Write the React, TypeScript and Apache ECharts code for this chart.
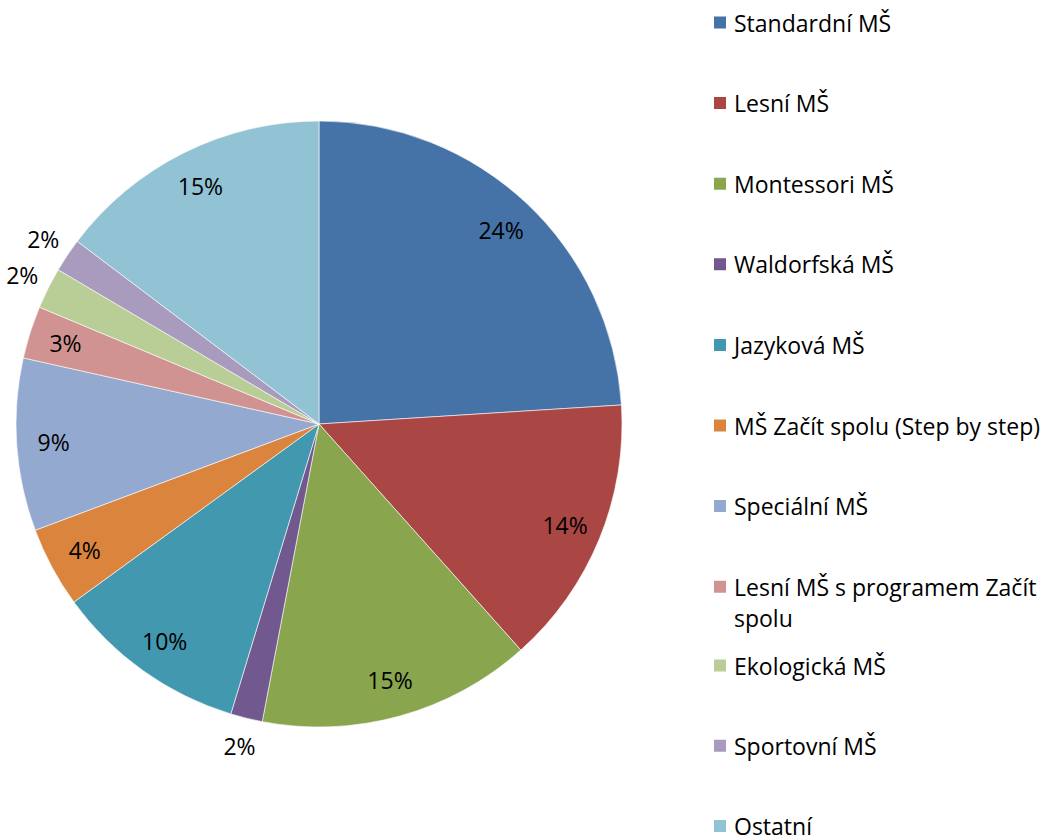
import React, { useEffect, useRef } from "react";
import * as echarts from "echarts";

const categories = [
  "Standardní MŠ",
  "Lesní MŠ",
  "Montessori MŠ",
  "Waldorfská MŠ",
  "Jazyková MŠ",
  "MŠ Začít spolu (Step by step)",
  "Speciální MŠ",
  "Lesní MŠ s programem Začít spolu",
  "Ekologická MŠ",
  "Sportovní MŠ",
  "Ostatní",
];
const values = [24.0, 14.4, 14.6, 1.7, 10.3, 4.3, 9.2, 2.8, 2.2, 1.8, 14.7];
const colors = [
  "#4572A7",
  "#AA4643",
  "#89A54E",
  "#71588F",
  "#4198AF",
  "#DB843D",
  "#93A9CF",
  "#D19392",
  "#B9CD96",
  "#A99BBD",
  "#92C3D4",
];

const FONT = "Open Sans";
const FS = 23;

export default function App() {
  const ref = useRef<HTMLDivElement>(null);
  useEffect(() => {
    if (!ref.current) return;
    const chart = echarts.init(ref.current, null, { renderer: "svg" });
    const total = values.reduce((a, b) => a + b, 0);
    const isSmall = (v: number) => (v / total) * 100 < 2.5;
    const pctFmt = (p: any) => Math.round(p.percent) + "%";
    const center = [319, 424];
    const labelRing = (name: string, radius: number[], showFn: (v: number) => boolean) => ({
      type: "pie",
      name,
      center,
      radius,
      startAngle: 90,
      clockwise: true,
      silent: true,
      animation: false,
      itemStyle: { color: "transparent", borderWidth: 0 },
      emphasis: { disabled: true },
      labelLine: { show: false },
      label: {
        position: "inside",
        color: "#000",
        fontFamily: FONT,
        fontSize: FS,
        formatter: pctFmt,
      },
      data: categories.map((c, i) => ({
        name: c,
        value: values[i],
        label: { show: showFn(values[i]) },
      })),
    });
    const legendBase = {
      orient: "vertical",
      left: 712,
      padding: 0,
      height: 300,
      itemWidth: 14,
      itemHeight: 14,
      itemGap: 54.6,
      icon: "rect",
      selectedMode: false,
      textStyle: {
        fontFamily: FONT,
        fontSize: FS,
        color: "#000",
        lineHeight: 26,
        padding: [0, 0, 0, 2],
      },
    };
    chart.setOption({
      animation: false,
      color: colors,
      legend: [
        { ...legendBase, top: 9.5, height: 600, data: categories.slice(0, 7) },
        {
          ...legendBase,
          top: 586.7 - 46.5,
          data: categories.slice(7, 8),
          formatter: () => "\nLesní MŠ s programem Začít\nspolu",
          textStyle: { ...legendBase.textStyle, lineHeight: 31 },
        },
        {
          ...legendBase,
          top: 654,
          itemGap: 57.3,
          data: categories.slice(8),
          textStyle: { ...legendBase.textStyle, lineHeight: 22 },
        },
      ],
      series: [
        {
          type: "pie",
          name: "main",
          center,
          radius: 303,
          startAngle: 90,
          clockwise: true,
          silent: true,
          emphasis: { disabled: true },
          label: { show: false },
          labelLine: { show: false },
          itemStyle: { borderColor: "#ffffff", borderWidth: 0.6 },
          data: categories.map((c, i) => ({ name: c, value: values[i] })),
        },
        labelRing("inner", [240, 286], (v) => !isSmall(v)),
        labelRing("outer", [308, 350], (v) => isSmall(v)),
      ],
    });
    return () => chart.dispose();
  }, []);
  return (
    <div
      ref={ref}
      style={{ position: "absolute", left: 0, top: 0, width: 1053, height: 839, background: "#fff" }}
    />
  );
}
